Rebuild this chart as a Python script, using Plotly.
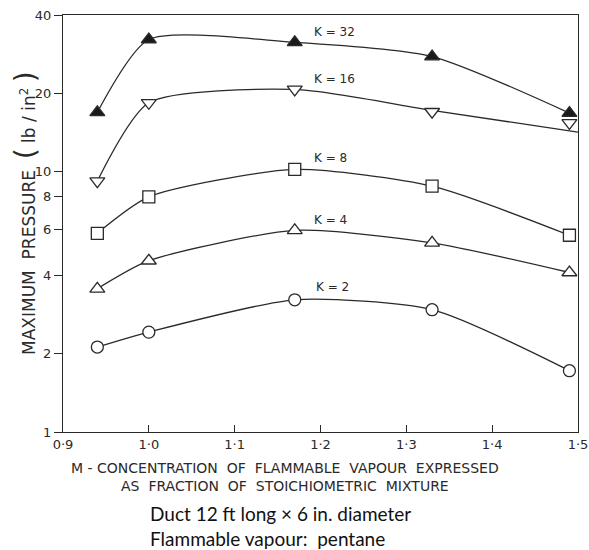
import math
import plotly.graph_objects as go

# Data
m_values = [0.94, 1.0, 1.17, 1.33, 1.49]
k32 = [16.9, 32.2, 31.4, 27.7, 16.8]
k16 = [9.2, 18.4, 20.7, 17.0, 15.4]
k16_curve_x = [0.94, 1.0, 1.17, 1.33, 1.5]
k16_curve_y = [9.2, 18.4, 20.7, 17.2, 14.2]
k8 = [5.8, 8.0, 10.2, 8.8, 5.7]
k4 = [3.55, 4.55, 5.95, 5.33, 4.1]
k2 = [2.12, 2.42, 3.22, 2.95, 1.72]

series_names = ["K = 32", "K = 16", "K = 8", "K = 4", "K = 2"]
series_values = [k32, k16, k8, k4, k2]
label_x = [1.19, 1.19, 1.19, 1.19, 1.192]
label_y = [34.3, 22.8, 11.3, 6.5, 3.6]

x_ticks = [0.9, 1.0, 1.1, 1.2, 1.3, 1.4, 1.5]
x_tick_labels = ["0·9", "1·0", "1·1", "1·2", "1·3", "1·4", "1·5"]
y_ticks = [1, 2, 4, 6, 8, 10, 20, 40]
y_tick_labels = ["1", "2", "4", "6", "8", "10", "20", "40"]

symbols = ["triangle-up", "triangle-down", "square", "triangle-up", "circle"]
fills = ["#1a1a1a", "white", "white", "white", "white"]
sizes = [13, 13, 12, 13, 12]

ink = "#2a2a2a"
fig = go.Figure()

for name, vals, sym, fill, sz in zip(series_names, series_values, symbols, fills, sizes):
    line = dict(color=ink, width=1.3, shape="spline", smoothing=0.65)
    marker = dict(symbol=sym, size=sz, color=fill, line=dict(color=ink, width=1.3))
    if name == "K = 16":
        fig.add_trace(go.Scatter(x=k16_curve_x, y=k16_curve_y, mode="lines", line=line,
                                 showlegend=False, hoverinfo="skip"))
        fig.add_trace(go.Scatter(x=m_values, y=vals, mode="markers", marker=marker,
                                 showlegend=False))
    else:
        fig.add_trace(go.Scatter(x=m_values, y=vals, mode="lines+markers", line=line,
                                 marker=marker, showlegend=False))

for name, lx, ly in zip(series_names, label_x, label_y):
    fig.add_annotation(x=lx, y=math.log10(ly), text=name, showarrow=False,
                       font=dict(family="DejaVu Sans", size=12, color=ink),
                       xanchor="left", yanchor="middle")

fig.update_xaxes(range=[0.9, 1.5], tickvals=x_ticks, ticktext=x_tick_labels,
                 ticks="inside", ticklen=7, tickcolor=ink, showgrid=False, zeroline=False,
                 showline=True, linecolor=ink, linewidth=1.3, mirror=True, automargin=False,
                 tickfont=dict(family="DejaVu Sans", size=13, color=ink))
fig.update_yaxes(type="log", range=[0, 1.60206], tickvals=y_ticks, ticktext=y_tick_labels,
                 ticks="outside", ticklen=8, tickcolor=ink, showgrid=False, zeroline=False,
                 showline=True, linecolor=ink, linewidth=1.3, mirror=True, automargin=False,
                 tickfont=dict(family="DejaVu Sans", size=13, color=ink))

# Axis titles and captions (plot area: 515 x 417 px)
fig.add_annotation(xref="paper", yref="paper", x=-0.074, y=0.525, xanchor="center",
                   yanchor="middle", textangle=-90,
                   text="MAXIMUM  PRESSURE  <span style='font-size:28px'>(</span> lb / in<sup>2</sup> <span style='font-size:28px'>)</span>",
                   showarrow=False, font=dict(family="DejaVu Sans", size=17, color=ink))
fig.add_annotation(xref="paper", yref="paper", x=0.431, y=-0.062, yanchor="top",
                   text="M - CONCENTRATION  OF  FLAMMABLE  VAPOUR  EXPRESSED<br>AS  FRACTION  OF  STOICHIOMETRIC  MIXTURE",
                   showarrow=False, font=dict(family="DejaVu Sans", size=14, color=ink))
fig.add_annotation(xref="paper", yref="paper", x=0.165, y=-0.163, xanchor="left",
                   yanchor="top", align="left",
                   text="Duct 12 ft long × 6 in. diameter<br>Flammable vapour:  pentane",
                   showarrow=False, font=dict(family="Lato", size=19, color="#111"))

fig.update_layout(width=589, height=550, margin=dict(l=63, r=11, t=15, b=118),
                  plot_bgcolor="white", paper_bgcolor="white", showlegend=False)

fig.write_html("out.html", config={"displayModeBar": False},
               post_script="document.body.style.margin='0';")
